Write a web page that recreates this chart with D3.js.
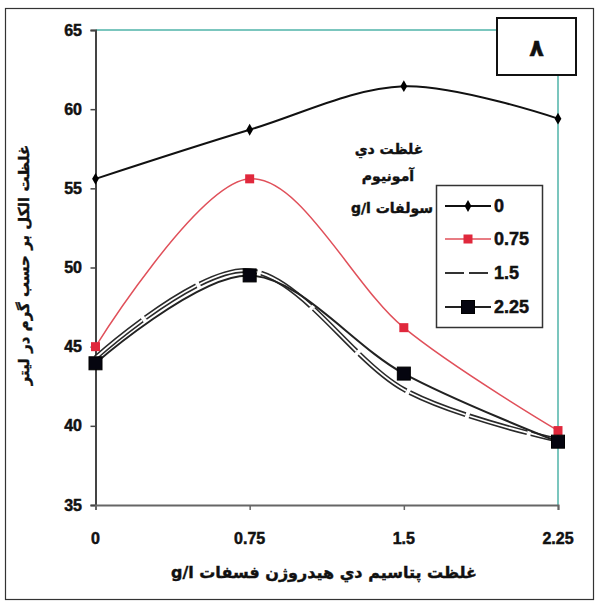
<!DOCTYPE html>
<html>
<head>
<meta charset="utf-8">
<script src="https://cdn.jsdelivr.net/npm/d3@7"></script>
<style>
  html, body { margin: 0; padding: 0; background: #fff; }
  svg { display: block; }
  .tick-label { font-family: "Liberation Sans", Arial, sans-serif; font-weight: bold; font-size: 16px; fill: #111; stroke: #111; stroke-width: 0.5px; }
  .fa { font-family: "DejaVu Sans", sans-serif; font-weight: bold; fill: #111; stroke: #111; stroke-width: 0.4px; }
</style>
</head>
<body>
<svg id="chart" width="599" height="604"></svg>
<script>
// Potassium dihydrogen phosphate levels (g/l) on the x axis
const categories = [0, 0.75, 1.5, 2.25];
const xTickLabels = ["0", "0.75", "1.5", "2.25"];
const yTicks = [35, 40, 45, 50, 55, 60, 65];

// Alcohol concentration (g/l) for each ammonium sulfate level
const series0 = [55.6, 58.7, 61.45, 59.4];
const series075 = [45.0, 55.6, 46.2, 39.7];
const series15 = [44.3, 49.8, 42.3, 39.1];
const series225 = [43.95, 49.5, 43.3, 39.0];

const seriesNames = ["0", "0.75", "1.5", "2.25"];

const svg = d3.select("#chart");
const plotLeft = 95.5, plotRight = 558, plotTop = 30, plotBottom = 505;

const x = d3.scaleLinear().domain([0, 2.25]).range([plotLeft, plotRight]);
const y = d3.scaleLinear().domain([35, 65]).range([plotBottom, plotTop]);

// outer frame
svg.append("rect").attr("x", 5.5).attr("y", 8.5).attr("width", 588).attr("height", 591)
  .attr("fill", "none").attr("stroke", "#333").attr("stroke-width", 1.2);

// plot frame: teal top and right edges
svg.append("line").attr("x1", plotLeft).attr("x2", plotRight).attr("y1", plotTop).attr("y2", plotTop)
  .attr("stroke", "#4fb3a9").attr("stroke-width", 1.5);
svg.append("line").attr("x1", plotRight).attr("x2", plotRight).attr("y1", plotTop).attr("y2", plotBottom)
  .attr("stroke", "#4fb3a9").attr("stroke-width", 1.5);

// axes
const yAxis = d3.axisLeft(y).tickValues(yTicks).tickSize(5).tickFormat("");
const gy = svg.append("g").attr("transform", `translate(${plotLeft},0)`).call(yAxis);
gy.select(".domain").attr("stroke", "#444").attr("stroke-width", 2);
gy.selectAll(".tick line").attr("stroke", "#444").attr("stroke-width", 1.5);

const xAxis = d3.axisBottom(x).tickValues(categories).tickSize(5).tickFormat("");
const gx = svg.append("g").attr("transform", `translate(0,${plotBottom})`).call(xAxis);
gx.select(".domain").attr("stroke", "#666").attr("stroke-width", 2);
gx.selectAll(".tick line").attr("stroke", "#666").attr("stroke-width", 1.5);

// tick labels
svg.append("g").selectAll("text").data(yTicks).join("text")
  .attr("class", "tick-label")
  .attr("x", 82).attr("y", d => y(d)).attr("dy", "0.35em")
  .attr("text-anchor", "end").text(d => d);
svg.append("g").selectAll("text").data(categories).join("text")
  .attr("class", "tick-label")
  .attr("x", d => x(d)).attr("y", 544)
  .attr("text-anchor", "middle").text((d, i) => xTickLabels[i]);

// axis titles
svg.append("text").attr("class", "fa").attr("font-size", 16)
  .attr("x", 324).attr("y", 578).attr("text-anchor", "middle")
  .attr("direction", "rtl")
  .text("غلظت پتاسيم دي هيدروژن فسفات g/l");
svg.append("text").attr("class", "fa").attr("font-size", 15)
  .attr("transform", "translate(29,265) rotate(-90)").attr("text-anchor", "middle")
  .attr("direction", "rtl")
  .text("غلظت الكل بر حسب گرم در ليتر");

// lines
const line = d3.line().x((d, i) => x(categories[i])).y(d => y(d)).curve(d3.curveCardinal.tension(0));
const plot = svg.append("g");

// 1.5 series: dashed double-stroke line
plot.append("path").datum(series15).attr("d", line).attr("fill", "none")
  .attr("stroke", "#2a2a2a").attr("stroke-width", 5).attr("stroke-dasharray", "60,4");
plot.append("path").datum(series15).attr("d", line).attr("fill", "none")
  .attr("stroke", "#fff").attr("stroke-width", 1.8).attr("stroke-dasharray", "60,4");

plot.append("path").datum(series225).attr("d", line).attr("fill", "none")
  .attr("stroke", "#222").attr("stroke-width", 2);
plot.append("path").datum(series075).attr("d", line).attr("fill", "none")
  .attr("stroke", "#e0505a").attr("stroke-width", 1.5);
plot.append("path").datum(series0).attr("d", line).attr("fill", "none")
  .attr("stroke", "#111").attr("stroke-width", 2);

// markers
const diamond = d3.symbol().type(d3.symbolDiamond).size(40);
plot.append("g").selectAll("path").data(series0).join("path")
  .attr("d", diamond).attr("fill", "#000")
  .attr("transform", (d, i) => `translate(${x(categories[i])},${y(d)})`);
plot.append("g").selectAll("rect").data(series075).join("rect")
  .attr("x", (d, i) => x(categories[i]) - 4.5).attr("y", d => y(d) - 4.5)
  .attr("width", 9).attr("height", 9).attr("fill", "#e0283c");
plot.append("g").selectAll("rect").data(series225).join("rect")
  .attr("x", (d, i) => x(categories[i]) - 6.5).attr("y", d => y(d) - 6.5)
  .attr("width", 13).attr("height", 13).attr("fill", "#05050f")
  .attr("stroke", "#000").attr("stroke-width", 1);

// legend title
const lt = svg.append("g");
lt.append("text").attr("class", "fa").attr("font-size", 14).attr("x", 389).attr("y", 154)
  .attr("text-anchor", "middle").attr("direction", "rtl").text("غلظت دي");
lt.append("text").attr("class", "fa").attr("font-size", 14).attr("x", 388).attr("y", 181)
  .attr("text-anchor", "middle").attr("direction", "rtl").text("آمونيوم");
lt.append("text").attr("class", "fa").attr("font-size", 14).attr("x", 433).attr("y", 213)
  .attr("text-anchor", "start").attr("direction", "rtl").text("سولفات g/l");

// legend
const lg = svg.append("g");
lg.append("rect").attr("x", 436.5).attr("y", 185.5).attr("width", 106).attr("height", 142)
  .attr("fill", "#fff").attr("stroke", "#333").attr("stroke-width", 1.5);
const rowY = [206, 239, 273, 307];
const lx1 = 445, lx2 = 491, lxm = 468;
// 0
lg.append("line").attr("x1", lx1).attr("x2", lx2).attr("y1", rowY[0]).attr("y2", rowY[0])
  .attr("stroke", "#111").attr("stroke-width", 2);
lg.append("path").attr("d", diamond).attr("fill", "#000").attr("transform", `translate(${lxm},${rowY[0]})`);
// 0.75
lg.append("line").attr("x1", lx1).attr("x2", lx2).attr("y1", rowY[1]).attr("y2", rowY[1])
  .attr("stroke", "#e0505a").attr("stroke-width", 1.5);
lg.append("rect").attr("x", lxm - 4.5).attr("y", rowY[1] - 4.5).attr("width", 9).attr("height", 9).attr("fill", "#e0283c");
// 1.5
lg.append("line").attr("x1", lx1).attr("x2", lx2).attr("y1", rowY[2]).attr("y2", rowY[2])
  .attr("stroke", "#333").attr("stroke-width", 2).attr("stroke-dasharray", "19,5");
// 2.25
lg.append("line").attr("x1", lx1).attr("x2", lx2).attr("y1", rowY[3]).attr("y2", rowY[3])
  .attr("stroke", "#222").attr("stroke-width", 2);
lg.append("rect").attr("x", lxm - 6.5).attr("y", rowY[3] - 6.5).attr("width", 13).attr("height", 13)
  .attr("fill", "#05050f").attr("stroke", "#000");
lg.selectAll("text.lab").data(seriesNames).join("text").attr("class", "tick-label lab")
  .style("font-size", "18px")
  .attr("x", 494).attr("y", (d, i) => rowY[i]).attr("dy", "0.36em").text(d => d);

// panel label box
svg.append("rect").attr("x", 497).attr("y", 18).attr("width", 79).attr("height", 57)
  .attr("fill", "#fff").attr("stroke", "#111").attr("stroke-width", 2);
svg.append("text").attr("class", "fa").attr("font-size", 24)
  .attr("x", 536.5).attr("y", 56).attr("text-anchor", "middle").text("٨");
</script>
</body>
</html>
